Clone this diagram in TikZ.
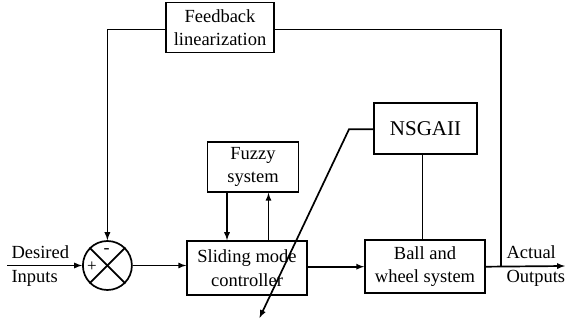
\documentclass[tikz,border=0pt]{standalone}
\usepackage{fontspec}
\setmainfont{Liberation Serif}
\usetikzlibrary{arrows,calc,positioning,shapes}
\tikzset{
	every node/.style={
		font=\fontsize{18.5}{23.5}\selectfont
	},
	bloque/.style={
		shape=rectangle,
		draw,
		line width=1.7pt,
		align=center,
		inner sep=0pt
	},
	sumador/.style={
		shape=circle,
		draw,
		line width=1.7pt,
		minimum size=49pt,
		inner sep=0pt
	},
	flecha/.style={-latex, line width=1.7pt},
	linea/.style={line width=1.7pt}
}

\begin{document}
\begin{tikzpicture}[x=1pt,y=-1pt]
	\useasboundingbox (0,0) rectangle (565,323);

	\node[bloque, minimum width=108pt, minimum height=50pt] (fb) at (220,27.5) {Feedback\\linearization};
	\node[sumador] (sum) at (107.4,265.5) {};
	\node[bloque, minimum width=120pt, minimum height=54pt] (smc) at (247,268) {Sliding mode\\controller};
	\node[bloque, minimum width=91pt, minimum height=50pt] (fuzzy) at (253,167) {Fuzzy\\system};
	\node[bloque, minimum width=120pt, minimum height=53pt] (ball) at (425,266.7) {Ball and\\wheel system};
	\node[bloque, minimum width=103pt, minimum height=51pt, font=\fontsize{21}{24}\selectfont] (nsga) at (425.5,128.5) {NSGAII};

	\node[align=left, anchor=west] (desired) at (8,266) {Desired\\Inputs};
	\node[align=left, anchor=west] (actual) at (503,266) {Actual\\Outputs};
	\node[font=\fontsize{17}{17}\selectfont] (plus) at (92,267) {+};
	\node[font=\fontsize{18}{18}\selectfont] (minus) at (106.7,251.5) {-};

	\coordinate (in) at (7,265.5);
	\coordinate (out) at (565,266);
	\coordinate (tap) at (501,266);
	\coordinate (knee) at (349,129.3);
	\coordinate (tip) at (259.5,318);

	\draw[linea] (sum.north west) -- (sum.south east);
	\draw[linea] (sum.north east) -- (sum.south west);

	\draw[flecha] (in) -- (sum.west);
	\draw[flecha] (sum.east) -- (sum.east -| smc.west);
	\draw[flecha] (smc.east |- ball.west) -- (ball.west);
	\draw[flecha] (ball.east) -- (out);
	\draw[linea] (tap) |- ([yshift=-2pt]fb.east);
	\draw[flecha] ([yshift=-2pt]fb.west) -| (sum.north);
	\draw[flecha] ([xshift=-26pt]fuzzy.south) -- ([xshift=-26pt]fuzzy.south |- smc.north);
	\draw[flecha] ([xshift=15.5pt]fuzzy.south |- smc.north) -- ([xshift=15.5pt]fuzzy.south);
	\draw[linea] ([xshift=-3pt]nsga.south) -- ([xshift=-3pt]nsga.south |- ball.north);
	\draw[flecha] (nsga.west |- knee) -- (knee) -- (tip);
\end{tikzpicture}
\end{document}
